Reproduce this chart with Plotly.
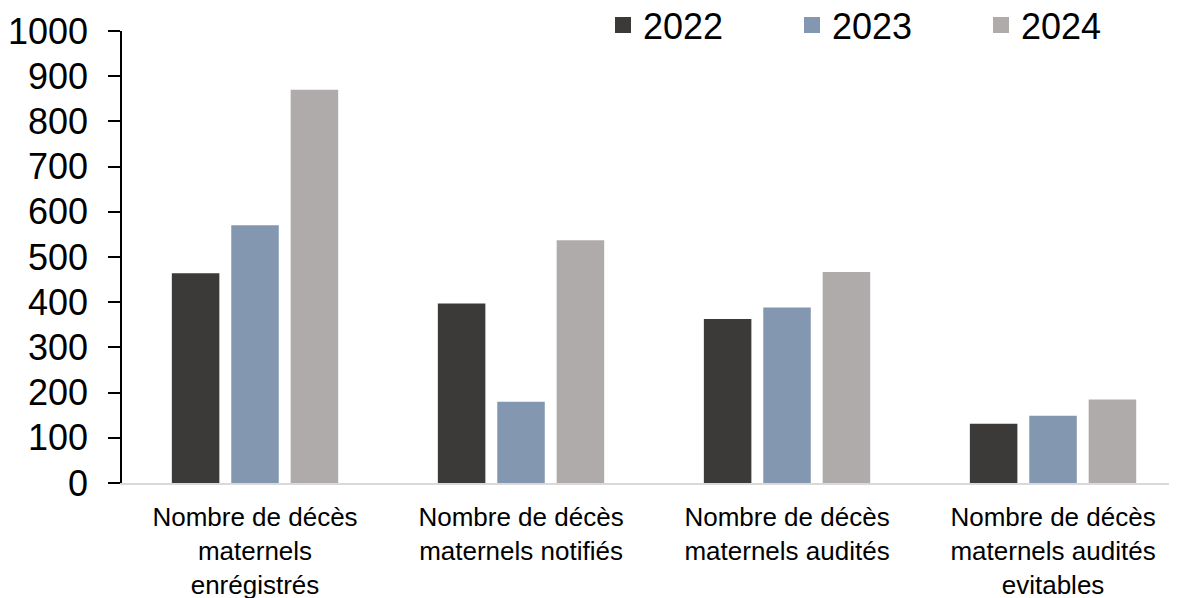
import plotly.graph_objects as go

# categories and values
categories = [
    "Nombre de décès<br>maternels<br>enrégistrés",
    "Nombre de décès<br>maternels notifiés",
    "Nombre de décès<br>maternels audités",
    "Nombre de décès<br>maternels audités<br>evitables",
]
years = ["2022", "2023", "2024"]
values_2022 = [464, 397, 363, 131]
values_2023 = [570, 180, 388, 149]
values_2024 = [870, 537, 467, 185]

series = [values_2022, values_2023, values_2024]
colors = ["#3b3a38", "#8497b0", "#afabab"]

fig = go.Figure()
for year, vals, col in zip(years, series, colors):
    fig.add_trace(go.Bar(
        x=categories, y=vals, name=year,
        marker={"color": col, "line": {"width": 0}},
        showlegend=False,
    ))
    # legend-only marker, larger square than the default bar swatch
    fig.add_trace(go.Scatter(
        x=[None], y=[None], name=year, mode="markers",
        marker={"symbol": "square", "size": 18, "color": col},
    ))

# page body has an 8px margin, so the figure is sized 8px smaller
fig.update_layout(
    width=1169, height=590,
    paper_bgcolor="white", plot_bgcolor="white",
    font={"family": "Liberation Sans, Arial, sans-serif", "color": "black"},
    margin={"l": 114, "r": 0, "t": 23, "b": 115, "autoexpand": False},
    barmode="group", bargap=0.33, bargroupgap=0.2,
    showlegend=True,
    legend={
        "orientation": "h",
        "xref": "container", "x": 0.994, "xanchor": "right",
        "yref": "container", "y": 0.971, "yanchor": "middle",
        "font": {"size": 36}, "bgcolor": "rgba(0,0,0,0)",
        "entrywidth": 144, "entrywidthmode": "pixels",
        "traceorder": "normal",
    },
)
fig.update_yaxes(
    range=[0, 1000], dtick=100, showgrid=False, zeroline=False,
    showline=True, linecolor="black", linewidth=1.5,
    ticks="outside", ticklen=12, tickcolor="black", tickwidth=1.5,
    tickfont={"size": 36}, ticklabelstandoff=13, automargin=False,
)
# the last category runs past the right edge in the original
fig.update_xaxes(
    range=[-0.5, 3.466],
    showgrid=False, showline=True, linecolor="#d9d9d9", linewidth=2,
    ticks="", tickfont={"size": 26}, ticklabelstandoff=10, automargin=False,
)

fig.write_html("out.html")
